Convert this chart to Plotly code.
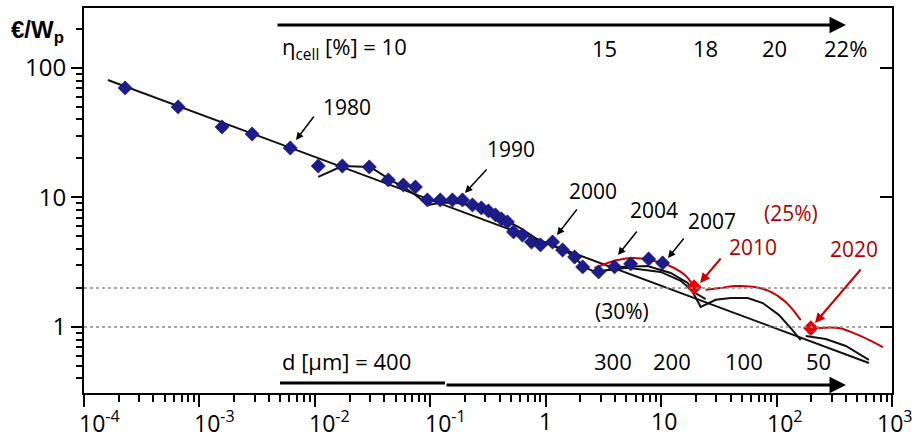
import math
import plotly.graph_objects as go

# ---------------- data ----------------
# historical module prices: cumulative production (GWp) vs price (EUR/Wp)
hist_x = [2.27e-4, 6.54e-4, 1.57e-3, 2.86e-3, 6.12e-3, 0.0107, 0.0173, 0.0296, 0.0433,
          0.0584, 0.0743, 0.0944, 0.122, 0.1555, 0.19, 0.232, 0.277, 0.319, 0.367,
          0.414, 0.466, 0.526, 0.629, 0.753, 0.901, 1.146, 1.40, 1.78, 2.09, 2.87,
          3.95, 5.44, 7.79, 10.3]
hist_y = [70.1, 50.0, 35.0, 30.9, 24.1, 17.5, 17.5, 17.2, 13.65,
          12.5, 12.05, 9.57, 9.57, 9.57, 9.57, 8.75, 8.30, 7.87, 7.33,
          6.82, 6.47, 5.42, 5.13, 4.53, 4.30, 4.53, 3.93, 3.47, 2.91, 2.66,
          2.91, 3.07, 3.35, 3.12]

# 20 % learning-rate line
learn_x = [1.61e-4, 631]
learn_y = [80.8, 0.527]

# black price curve (history + scenario)
curveB_x = [0.0107, 0.0173, 0.0302, 0.0451, 0.0608, 0.0743, 0.0963, 0.122, 0.165, 0.246,
            0.332, 0.448, 0.604, 0.816, 1.10, 1.485, 1.81, 2.13, 2.81, 4.20, 7.64,
            12.1, 17.0, 22.0, 29.7, 40.1, 56.3, 75.9, 104.5, 132.8, 162]
curveB_y = [14.4, 17.5, 17.2, 13.65, 11.8, 10.45, 8.75, 9.1, 9.1, 8.59,
            7.73, 6.70, 5.81, 4.86, 4.30, 3.86, 3.41, 2.91, 2.61, 2.91, 2.96,
            2.61, 2.19, 1.43, 1.62, 1.67, 1.67, 1.53, 1.24, 0.98, 0.79]

# second black scenario curve
curveC_x = [2.99, 5.12, 9.9, 14.8, 19.1, 24.3]
curveC_y = [2.71, 2.86, 2.66, 2.27, 1.86, 1.64]

# black tail segment after 2020
curveD_x = [179, 267, 398, 631]
curveD_y = [0.852, 0.808, 0.713, 0.556]

# red scenario (25 %)
red1_x = [2.65, 4.20, 5.77, 8.11, 11.4, 14.8, 17.0, 19.1]
red1_y = [2.86, 3.29, 3.41, 3.29, 3.01, 2.66, 2.39, 2.04]
red2_x = [24.3, 32.8, 44.3, 62.2, 85.5, 120, 162]
red2_y = [1.94, 2.00, 2.07, 2.04, 1.90, 1.56, 1.13]
red3_x = [232, 346, 537, 834]
red3_y = [0.98, 0.98, 0.85, 0.70]

milestone_x = [19.3, 198]
milestone_y = [2.03, 0.98]

ref_levels = [2, 1]

x_tickvals = [1e-4, 1e-3, 1e-2, 1e-1, 1, 10, 100, 1000]
x_ticktext = ["10<sup>-4</sup>", "10<sup>-3</sup>", "10<sup>-2</sup>", "10<sup>-1</sup>",
              "1", "10", "10<sup>2</sup>", "10<sup>3</sup>"]
y_tickvals = [1, 10, 100]
y_ticktext = ["1", "10", "100"]

eta_labels = ["15", "18", "20", "22%"]
d_labels = ["300", "200", "100", "50"]

# ---------------- figure ----------------
W, H = 918, 441
L, R, T, B = 84, 26, 8, 48
PW, PH = W - L - R, H - T - B


def P(px, py):
    return (px - L) / PW, (H - B - py) / PH


FONT = "Open Sans"
BLACK = "#111111"
RED = "#c80000"

fig = go.Figure()

for lv in ref_levels:
    fig.add_trace(go.Scatter(x=[1e-4, 1e3], y=[lv, lv], mode="lines",
                             line=dict(color="#8a8a8a", width=1.5, dash="dot"),
                             yaxis="y2", hoverinfo="skip", showlegend=False))

fig.add_trace(go.Scatter(x=learn_x, y=learn_y, mode="lines",
                         line=dict(color=BLACK, width=2), showlegend=False))
fig.add_trace(go.Scatter(x=curveB_x, y=curveB_y, mode="lines",
                         line=dict(color=BLACK, width=2), showlegend=False))
fig.add_trace(go.Scatter(x=curveC_x, y=curveC_y, mode="lines",
                         line=dict(color=BLACK, width=2), showlegend=False))
fig.add_trace(go.Scatter(x=curveD_x, y=curveD_y, mode="lines",
                         line=dict(color=BLACK, width=2), showlegend=False))
for rx, ry in [(red1_x, red1_y), (red2_x, red2_y), (red3_x, red3_y)]:
    fig.add_trace(go.Scatter(x=rx, y=ry, mode="lines", line_shape="spline",
                             line=dict(color=RED, width=2), showlegend=False))

fig.add_trace(go.Scatter(x=hist_x, y=hist_y, mode="markers",
                         marker=dict(symbol="diamond", size=11, color="#1c1c8a",
                                     line=dict(color="#10105a", width=0.5)),
                         showlegend=False))
fig.add_trace(go.Scatter(x=milestone_x, y=milestone_y, mode="markers",
                         marker=dict(symbol="diamond", size=12, color="#ee0000"),
                         showlegend=False))

ann = []


def text(px, py, s, size=21, color="black", xanchor="center", family=FONT):
    x, y = P(px, py)
    ann.append(dict(x=x, y=y, xref="paper", yref="paper", text=s, showarrow=False,
                    xanchor=xanchor, yanchor="middle",
                    font=dict(family=family, size=size, color=color)))


def arrow(tail, tip, color="black", width=1.5, size=1.0):
    x, y = P(*tip)
    ann.append(dict(x=x, y=y, xref="paper", yref="paper", text="", showarrow=True,
                    ax=tail[0] - tip[0], ay=tail[1] - tip[1], axref="pixel", ayref="pixel",
                    arrowhead=2, arrowsize=size, arrowwidth=width, arrowcolor=color))


# x tick labels (placed like the reference: base "10" just right of the tick)
for v, s in zip(x_tickvals, x_ticktext):
    if "<sup>-" in s:
        shift = 15
    elif s.endswith("3</sup>"):
        shift = 3
    elif "<sup>" in s:
        shift = 8
    elif s == "10":
        shift = 3
    else:
        shift = 0
    ann.append(dict(x=math.log10(v), xref="x", y=0, yref="paper", text=s, showarrow=False,
                    xanchor="center", yanchor="top", xshift=shift, yshift=-10,
                    font=dict(family=FONT, size=23, color="black")))

# efficiency arrow (top)
arrow((276, 25), (846, 25), width=3, size=1.1)
text(280, 48, "η<sub>cell</sub> [%] = 10", size=22, xanchor="left")
for s, px in zip(eta_labels, [604, 705, 774, 845]):
    text(px, 48, s, size=22)

# thickness arrow (bottom)
arrow((445, 385), (846, 385), width=3, size=1.1)
text(280, 361, "d [µm] = 400", size=22, xanchor="left")
for s, px in zip(d_labels, [613, 672, 744, 818]):
    text(px, 361, s, size=22)

# year labels
text(347, 107, "1980")
arrow((315, 115), (296, 140))
text(511, 149, "1990")
arrow((488, 168), (465, 193))
text(593, 191, "2000")
arrow((578, 208), (557, 235))
text(654, 210, "2004")
arrow((638, 230), (618, 255))
text(712, 221, "2007")
arrow((685, 237), (668, 258))
text(622, 311, "(30%)")
text(791, 213, "(25%)", color="#b00000")
text(753, 247, "2010", color="#b00000")
arrow((722, 257), (700, 283), color=RED, width=2)
text(854, 249, "2020", color="#b00000")
arrow((862, 268), (815, 323), color=RED, width=2)

# y-axis unit label
text(37, 31, "<b>€/W<sub>p</sub></b>", size=24, family="Liberation Sans")

x0, y0 = P(280, 383)
x1, _ = P(445, 383)

fig.update_layout(
    width=W, height=H,
    margin=dict(l=L, r=R, t=T, b=B, autoexpand=False),
    paper_bgcolor="white", plot_bgcolor="white",
    annotations=ann,
    shapes=[dict(type="line", xref="paper", yref="paper", x0=x0, x1=x1, y0=y0, y1=y0,
                 line=dict(color="black", width=3))],
    xaxis=dict(type="log", range=[-4, 3], showgrid=False, zeroline=False, automargin=False,
               showline=True, linecolor="black", linewidth=2, mirror=True,
               tickmode="array", tickvals=x_tickvals, showticklabels=False,
               ticks="outside", ticklen=12, tickwidth=2, tickcolor="black",
               minor=dict(ticks="outside", ticklen=7, tickwidth=1.5, tickcolor="black",
                          dtick="D1", showgrid=False)),
    yaxis=dict(type="log", range=[-0.51, 2.463], showgrid=False, zeroline=False, automargin=False,
               showline=True, linecolor="black", linewidth=2, mirror=True,
               tickmode="array", tickvals=y_tickvals, ticktext=y_ticktext,
               ticks="outside", ticklen=11, tickwidth=2, tickcolor="black",
               tickfont=dict(family=FONT, size=24, color="black"),
               minor=dict(ticks="outside", ticklen=6, tickwidth=1.5, tickcolor="black",
                          dtick="D1", showgrid=False)),
    yaxis2=dict(type="log", range=[-0.51, 2.463], overlaying="y", side="right", automargin=False,
                showgrid=False, zeroline=False, showline=False, showticklabels=False,
                tickmode="array", tickvals=y_tickvals, ticks="inside", ticklen=12,
                tickwidth=2, tickcolor="black"),
)

fig.write_html("out.html", config={"displayModeBar": False},
               post_script="document.body.style.margin='0';document.body.style.overflow='hidden';")
